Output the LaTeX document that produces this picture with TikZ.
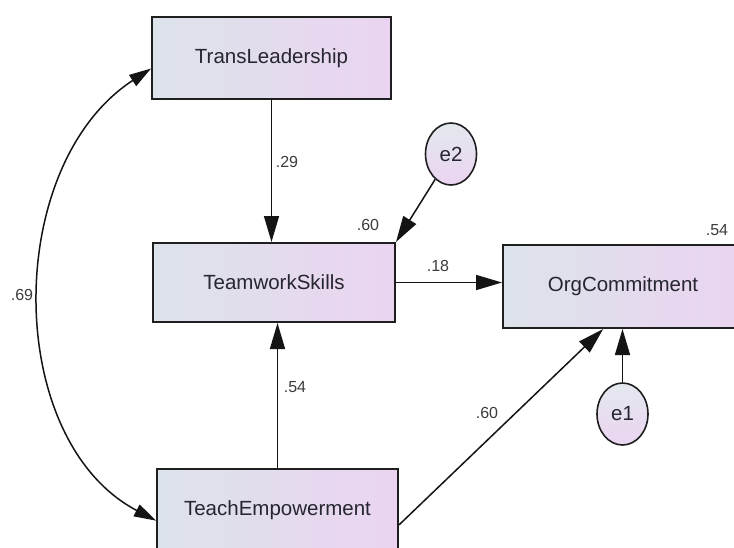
\documentclass[tikz,border=0pt]{standalone}
\usepackage{fontspec}
\setmainfont{Liberation Sans}
\usepackage{xcolor}
\usepackage{tikz}
\usetikzlibrary{arrows.meta,shapes.geometric}
\definecolor{boxleft}{HTML}{DCE3EA}
\definecolor{boxright}{HTML}{EBD4F1}
\definecolor{inktext}{HTML}{262630}
\definecolor{labgray}{HTML}{3C3C3C}

\begin{document}
\begin{tikzpicture}[x=1pt, y=-1pt,
  varbox/.style={draw=black!88, line width=2pt, left color=boxleft, right color=boxright,
      minimum height=82pt, inner sep=0pt, text=inktext,
      font=\fontsize{20.5}{24}\selectfont},
  errnode/.style={ellipse, draw=black!88, line width=1.6pt, top color=boxleft!80!white,
      bottom color=boxright, minimum width=51pt, minimum height=62pt, inner sep=0pt,
      text=inktext, font=\fontsize{20.5}{24}\selectfont},
  arr/.style={draw=black!92, line width=1.5pt, -{Triangle[length=26pt,width=15pt]}},
  lbl/.style={text=labgray, inner sep=0pt, font=\fontsize{16}{18}\selectfont}]
\useasboundingbox[fill=white] (0,0) rectangle (734,547);

% variables
\node[varbox, minimum width=239pt] (trans) at (271.5,58) {TransLeadership};
\node[varbox, minimum width=242pt, minimum height=79pt] (team) at (274,282.5) {TeamworkSkills};
\node[varbox, minimum width=240pt, minimum height=83pt] (org) at (623,286.5) {OrgCommitment};
\node[varbox, minimum width=241pt] (teach) at (277.5,510) {TeachEmpowerment};

% residuals
\node[errnode] (e2) at (451,154) {e2};
\node[errnode] (e1) at (622.5,414) {e1};

% paths
\draw[arr] (trans.south) -- (trans.south |- team.north);
\draw[arr] (teach.north) -- (teach.north |- team.south);
\draw[arr] (team.east) -- (team.east -| org.west);
\draw[arr] (e2) -- (team.north east);
\draw[arr] (teach.-7) -- (org.245);
\draw[arr] (e1.north) -- (e1.north |- org.south);
\draw[draw=black!92, line width=1.5pt, {Triangle[length=22pt,width=13pt]}-{Triangle[length=22pt,width=13pt]}]
  (trans.185) .. controls (3,165) and (3,440) .. (teach.185);

% estimates
\node[lbl] (w29) at (287,162) {.29};
\node[lbl] (r60) at (368,225) {.60};
\node[lbl] (w18) at (438,266) {.18};
\node[lbl] (w54) at (295,387) {.54};
\node[lbl] (w60) at (487,413) {.60};
\node[lbl] (r54) at (717,230) {.54};
\node[lbl] (c69) at (22,295) {.69};
\end{tikzpicture}
\end{document}
